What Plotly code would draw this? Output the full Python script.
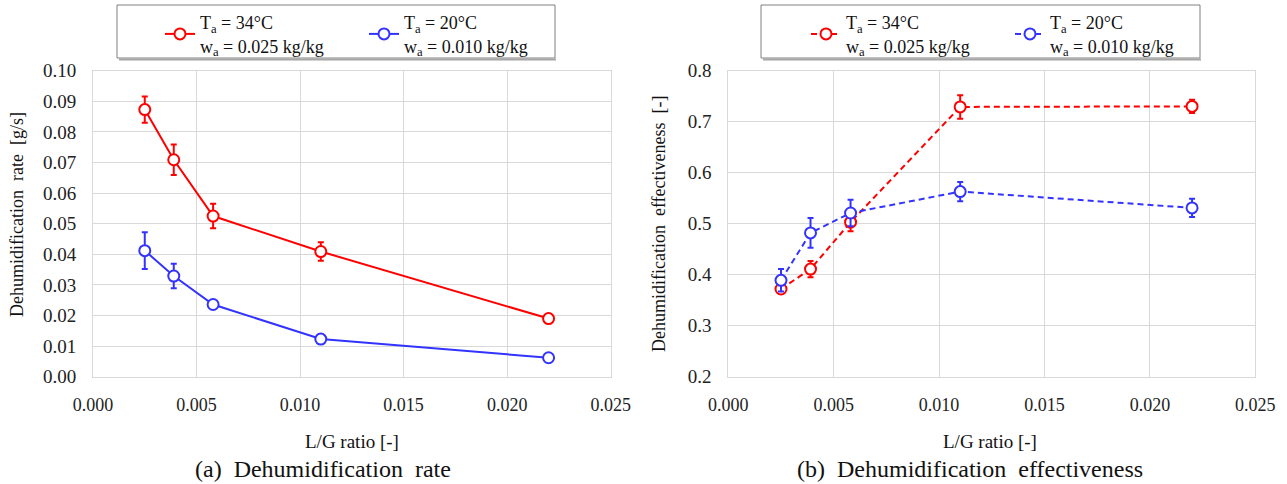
import plotly.graph_objects as go

# ---- data ----
lg_ratio = [0.0025, 0.0039, 0.0058, 0.011, 0.022]

rate_34 = [0.0873, 0.0709, 0.0525, 0.0409, 0.0190]
rate_34_err = [0.0043, 0.0050, 0.0040, 0.0030, 0.0008]
rate_20 = [0.0412, 0.0329, 0.0236, 0.0123, 0.0062]
rate_20_err = [0.0060, 0.0040, 0.0012, 0.0006, 0.0005]

eff_34 = [0.372, 0.411, 0.503, 0.729, 0.730]
eff_34_err = [0.008, 0.016, 0.018, 0.023, 0.013]
eff_20 = [0.389, 0.482, 0.521, 0.563, 0.531]
eff_20_err = [0.022, 0.029, 0.026, 0.019, 0.018]

name_34 = "T<sub>a</sub> = 34°C<br>w<sub>a</sub> = 0.025 kg/kg"
name_20 = "T<sub>a</sub> = 20°C<br>w<sub>a</sub> = 0.010 kg/kg"

x_ticks = [0.000, 0.005, 0.010, 0.015, 0.020, 0.025]

RED = "#ff0000"
BLUE = "#3333ff"
FONT = "'Liberation Serif', 'Times New Roman', Tinos, 'DejaVu Serif', serif"
W, H = 1287, 484

fig = go.Figure()

def add(x, y, err, color, name, dash, xa, ya, legend):
    fig.add_trace(go.Scatter(
        x=x, y=y, name=name, mode="lines+markers",
        line=dict(color=color, width=2, dash=dash),
        marker=dict(symbol="circle", size=11, color="white",
                    line=dict(color=color, width=2)),
        error_y=dict(type="data", array=err, visible=True, color=color,
                     thickness=2, width=3),
        xaxis=xa, yaxis=ya, legend=legend))

add(lg_ratio, rate_34, rate_34_err, RED, name_34, "solid", "x", "y", "legend")
add(lg_ratio, rate_20, rate_20_err, BLUE, name_20, "solid", "x", "y", "legend")
add(lg_ratio, eff_34, eff_34_err, RED, name_34, "6px,4px", "x2", "y2", "legend2")
add(lg_ratio, eff_20, eff_20_err, BLUE, name_20, "6px,4px", "x2", "y2", "legend2")

def px(x):
    return x / W

def py(y):
    return 1 - y / H

ydom = [py(376.7), py(70.7)]
axis_common = dict(showgrid=True, gridcolor="#d9d9d9", gridwidth=1,
                   showline=True, linecolor="#d9d9d9", linewidth=1, mirror=True,
                   zeroline=False, ticks="", ticklabelstandoff=12, automargin=False)
xtick_font = dict(family=FONT, size=18, color="#222")
ytick_font = dict(family=FONT, size=19, color="#222")

fig.update_layout(
    width=W, height=H, margin=dict(l=0, r=0, t=0, b=0, autoexpand=False),
    paper_bgcolor="white", plot_bgcolor="white",
    font=dict(family=FONT, color="#111"),
    xaxis=dict(domain=[px(93), px(610.7)], range=[0, 0.025], tickvals=x_ticks,
               tickformat=".3f", anchor="y", tickfont=xtick_font, **axis_common),
    yaxis=dict(domain=ydom, range=[0, 0.10], dtick=0.01, tickformat=".2f",
               anchor="x", tickfont=ytick_font, **axis_common),
    xaxis2=dict(domain=[px(728.3), px(1255.3)], range=[0, 0.025], tickvals=x_ticks,
                tickformat=".3f", anchor="y2", tickfont=xtick_font, **axis_common),
    yaxis2=dict(domain=ydom, range=[0.2, 0.8], dtick=0.1, tickformat=".1f",
                anchor="x2", tickfont=ytick_font, **axis_common),
    legend=dict(orientation="h", x=px(160), y=py(4), xanchor="left", yanchor="top",
                font=dict(family=FONT, size=18, color="#111"),
                bgcolor="rgba(0,0,0,0)", borderwidth=0, entrywidth=159,
                entrywidthmode="pixels", tracegroupgap=0),
    legend2=dict(orientation="h", x=px(806), y=py(4), xanchor="left", yanchor="top",
                 font=dict(family=FONT, size=18, color="#111"),
                 bgcolor="rgba(0,0,0,0)", borderwidth=0, entrywidth=159,
                 entrywidthmode="pixels", tracegroupgap=0),
    showlegend=True,
)

# legend frames
for x0, x1 in [(117, 555), (761, 1200)]:
    fig.add_shape(type="rect", xref="paper", yref="paper",
                  x0=px(x0), x1=px(x1), y0=py(58), y1=py(5),
                  line=dict(color="#808080", width=1), fillcolor="rgba(0,0,0,0)", layer="below")
    fig.add_shape(type="line", xref="paper", yref="paper",
                  x0=px(x0 + 2), x1=px(x1 + 1), y0=py(59.5), y1=py(59.5),
                  line=dict(color="#a6a6a6", width=2))

def ann(text, x, y, size, angle=0):
    fig.add_annotation(text=text, x=px(x), y=py(y), xref="paper", yref="paper",
                       showarrow=False, textangle=angle, xanchor="center", yanchor="middle",
                       font=dict(family=FONT, size=size, color="#111"))

ann("L/G ratio [-]", 352, 441, 19)
ann("L/G ratio [-]", 990, 441, 19)
ann("(a)\u00a0\u00a0Dehumidification\u00a0\u00a0rate", 323, 469, 24)
ann("(b)\u00a0\u00a0Dehumidification\u00a0\u00a0effectiveness", 970, 469, 24)
ann("Dehumidification\u00a0\u00a0rate\u00a0\u00a0[g/s]", 17, 215, 18, -90)
ann("Dehumidification\u00a0\u00a0effectiveness\u00a0\u00a0[-]", 659, 224, 18, -90)

fig.write_html("out.html", config={"displayModeBar": False},
               post_script="document.body.style.margin='0px';document.body.style.overflow='hidden';")
